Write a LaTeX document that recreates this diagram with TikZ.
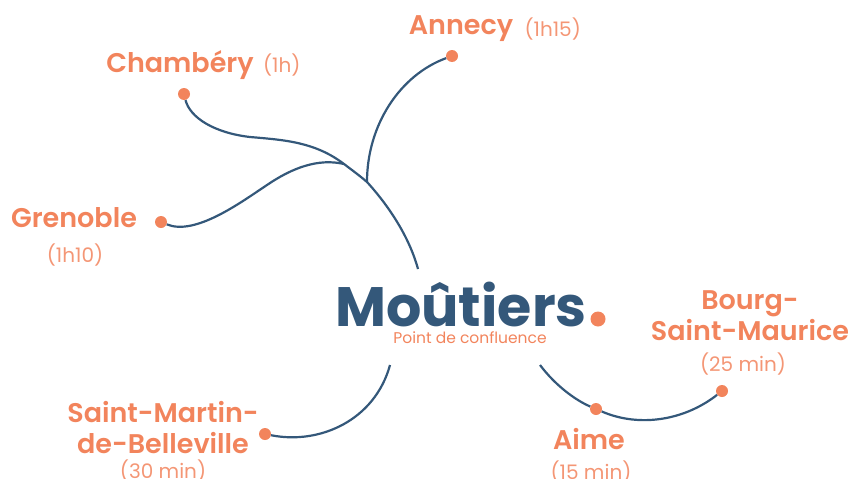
\documentclass[tikz,border=0pt]{standalone}
\usepackage{fontspec}
\setmainfont{Poppins}[BoldFont={Poppins SemiBold}]
\newfontfamily\logofont{Poppins Bold}
\usepackage{tikz}
\usetikzlibrary{positioning}

\definecolor{coral}{HTML}{F2845C}
\definecolor{navy}{HTML}{34587A}

\begin{document}
\begin{tikzpicture}[
		x=1pt, y=-1pt,
		city/.style={inner sep=0pt, text=coral, font=\fontsize{27}{31}\selectfont\bfseries, align=center},
		trip/.style={inner sep=0pt, text=coral!85!white, font=\fontsize{20}{24}\selectfont},
		stop/.style={circle, fill=coral, draw=none, minimum size=12pt, inner sep=0pt},
		route/.style={draw=navy, line width=2.2pt}
]
\useasboundingbox (0,0) rectangle (851,479);

% logo
\node [inner sep=0pt, text=navy, font=\fontsize{55.5}{56}\logofont] (Logo) at (461,304) {Moûtiers};
\node [inner sep=0pt, text=coral, font=\fontsize{15.5}{18}\selectfont] (Tagline) at (470,338) {Point de confluence};
\node [stop, minimum size=15pt] (Full) at (598,319) {};

% stops
\node [stop] (Chambery) at (184,94) {};
\node [stop] (Annecy) at (452,56) {};
\node [stop] (Grenoble) at (161,222) {};
\node [stop] (Martin) at (265,434) {};
\node [stop] (Aime) at (596,409) {};
\node [stop] (Bourg) at (722,391) {};

% free ends and junctions
\coordinate (North) at (418,269);
\coordinate (South) at (390,365);
\coordinate (East) at (540,365);
\coordinate (JoinA) at (367,182);
\coordinate (JoinB) at (344,164);

% labels
\node [city] (ChamberyName) at (180,65) {Chambéry};
\node [trip, right=9pt of ChamberyName] (ChamberyTime) {(1h)};
\node [city] (AnnecyName) at (461,29) {Annecy};
\node [trip, right=11pt of AnnecyName] (AnnecyTime) {(1h15)};
\node [city] (GrenobleName) at (74,218) {Grenoble};
\node [trip] (GrenobleTime) at (75,255) {(1h10)};
\node [city] (BourgName) at (750,316) {Bourg-\\Saint-Maurice};
\node [trip] (BourgTime) at (743,364) {(25 min)};
\node [city] (AimeName) at (589,439) {Aime};
\node [trip] (AimeTime) at (591,472) {(15 min)};
\node [city] (MartinName) at (163,428) {Saint-Martin-\\de-Belleville};
\node [trip] (MartinTime) at (163,471) {(30 min)};

% routes
\draw [route] (North) .. controls (409,236) and (388,205) .. (JoinA)
	.. controls (360,176) and (352,170) .. (JoinB)
	.. controls (315,142) and (285,140) .. (250,137)
	.. controls (215,133) and (190,118) .. (Chambery);
\draw [route] (Grenoble) .. controls (195,236) and (240,203) .. (267,185)
	.. controls (292,168) and (318,158) .. (JoinB);
\draw [route] (JoinA) .. controls (367,125) and (400,75) .. (Annecy);
\draw [route] (Martin) .. controls (320,445) and (375,420) .. (South);
\draw [route] (East) .. controls (555,385) and (575,400) .. (Aime);
\draw [route] (Aime) .. controls (640,428) and (685,420) .. (Bourg);

\end{tikzpicture}
\end{document}
